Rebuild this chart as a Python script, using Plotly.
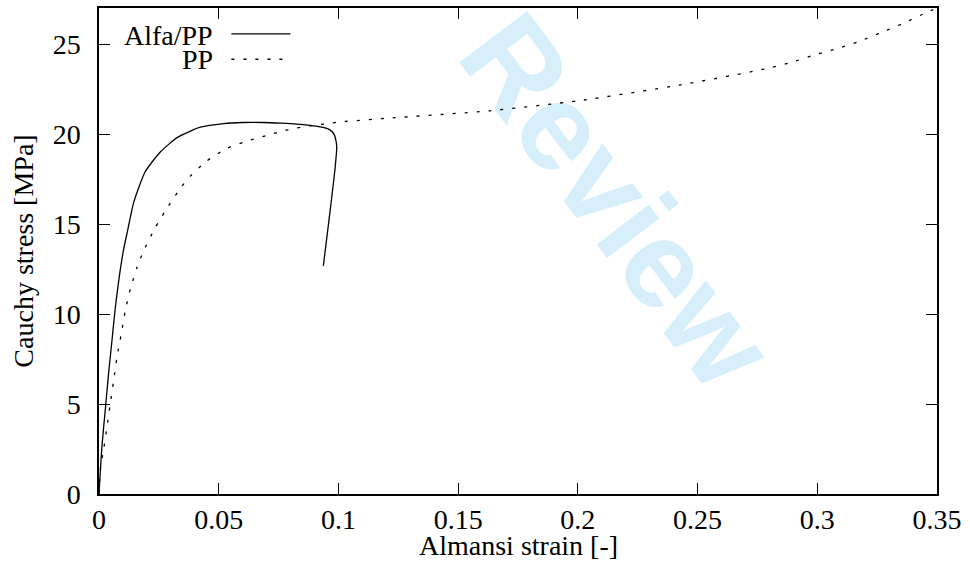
import plotly.graph_objects as go

# Tensile response: Almansi strain [-] vs Cauchy stress [MPa]
alfa_strain = [0.0, 0.0012, 0.0026, 0.0040, 0.0054, 0.0068, 0.0085, 0.0103, 0.0119,
               0.0145, 0.0193, 0.0256, 0.0326, 0.0380, 0.0423, 0.0520, 0.0600,
               0.0687, 0.0760, 0.0826, 0.0880, 0.0924, 0.0955, 0.0972, 0.0983,
               0.0990, 0.0993, 0.0986, 0.0965, 0.0937]
alfa_stress = [0.0, 2.6, 4.65, 6.7, 8.5, 10.35, 12.1, 13.6, 14.6,
               16.2, 17.9, 19.0, 19.8, 20.15, 20.38, 20.58, 20.64,
               20.64, 20.6, 20.55, 20.48, 20.40, 20.3, 20.15, 19.95,
               19.6, 19.3, 18.1, 15.7, 12.67]

pp_strain = [0.0, 0.0005, 0.0019, 0.0033, 0.0047, 0.0061, 0.0075, 0.0093, 0.0110,
             0.0131, 0.0159, 0.0186, 0.0235, 0.0290, 0.0346, 0.0381, 0.0450,
             0.0534, 0.0628, 0.0722, 0.0770, 0.0820, 0.0868, 0.0917, 0.0966,
             0.1014, 0.1209, 0.1633, 0.2009, 0.2430, 0.2795, 0.2892, 0.2990,
             0.3087, 0.3178, 0.3268, 0.3366, 0.3456, 0.3500]
pp_stress = [0.0, 1.3, 2.45, 3.7, 5.0, 6.3, 7.6, 8.9, 10.2,
             11.4, 12.6, 13.5, 14.8, 16.0, 17.1, 17.65, 18.5,
             19.2, 19.65, 20.0, 20.18, 20.32, 20.44, 20.51, 20.6,
             20.68, 20.88, 21.29, 21.86, 22.73, 23.65, 23.98, 24.4,
             24.76, 25.16, 25.64, 26.19, 26.75, 27.0]

x_ticks = [0, 0.05, 0.1, 0.15, 0.2, 0.25, 0.3, 0.35]
x_tick_text = ["0", "0.05", "0.1", "0.15", "0.2", "0.25", "0.3", "0.35"]
y_ticks = [0, 5, 10, 15, 20, 25]
y_tick_text = ["0", "5", "10", "15", "20", "25"]

series_names = ["Alfa/PP", "PP"]
x_title = "Almansi strain [-]"
y_title = "Cauchy stress [MPa]"

FONT = "Liberation Serif"
FSIZE = 28
INK = "black"

fig = go.Figure()
fig.add_trace(go.Scatter(x=alfa_strain, y=alfa_stress, mode="lines", name=series_names[0],
                         line=dict(color=INK, width=1.3, shape="spline", smoothing=0.6),
                         showlegend=False))
fig.add_trace(go.Scatter(x=pp_strain, y=pp_stress, mode="lines", name=series_names[1],
                         line=dict(color=INK, width=1.3, dash="3px,9px", shape="spline",
                                   smoothing=0.6),
                         showlegend=False))

axis_common = dict(
    showgrid=False, zeroline=False, showline=True, linecolor=INK, linewidth=1.5,
    mirror="ticks", ticks="inside", ticklen=11, tickwidth=1, tickcolor=INK,
    tickfont=dict(family=FONT, size=FSIZE, color=INK),
)

fig.update_xaxes(range=[0, 0.35], tickvals=x_ticks, ticktext=x_tick_text,
                 ticklabelstandoff=0, **axis_common)
fig.update_yaxes(range=[0, 27], tickvals=y_ticks, ticktext=y_tick_text,
                 title=dict(text=y_title, font=dict(family=FONT, size=FSIZE, color=INK),
                            standoff=11),
                 ticklabelstandoff=11, **axis_common)

annotations = [dict(x=0.5, y=-0.1066, xref="paper", yref="paper", text=x_title,
                    showarrow=False, xanchor="center", yanchor="middle",
                    font=dict(family=FONT, size=FSIZE, color=INK))]
shapes = []

# Key in the upper-left corner: label followed by line sample
key_rows = [(0.9426, 0.9467, "solid"), (0.8934, 0.8945, "3px,9px")]
for name, (ty, sy, dash) in zip(series_names, key_rows):
    annotations.append(dict(x=0.1387, y=ty, xref="paper", yref="paper", text=name,
                            showarrow=False, xanchor="right", yanchor="middle",
                            font=dict(family=FONT, size=FSIZE, color=INK)))
    shapes.append(dict(type="line", xref="paper", yref="paper", x0=0.158, x1=0.2284,
                       y0=sy, y1=sy, line=dict(color=INK, width=1.3, dash=dash)))

# Diagonal watermark behind the curves (label follows the line's angle)
shapes.append(dict(type="line", xref="paper", yref="paper", layer="below",
                   x0=0.5582, y0=0.7826, x1=0.7019, y1=0.4551,
                   line=dict(color="rgba(0,0,0,0)", width=0),
                   label=dict(text="Review", textposition="middle",
                              yanchor="middle", padding=0,
                              font=dict(family="Liberation Sans", size=124, color="#d6effb",
                                        weight="bold"))))

fig.update_layout(
    width=970, height=564,
    margin=dict(l=99, r=33, t=6, b=70),
    paper_bgcolor="white", plot_bgcolor="rgba(0,0,0,0)",
    annotations=annotations, shapes=shapes,
    showlegend=False,
)

fig.write_html("out.html")
